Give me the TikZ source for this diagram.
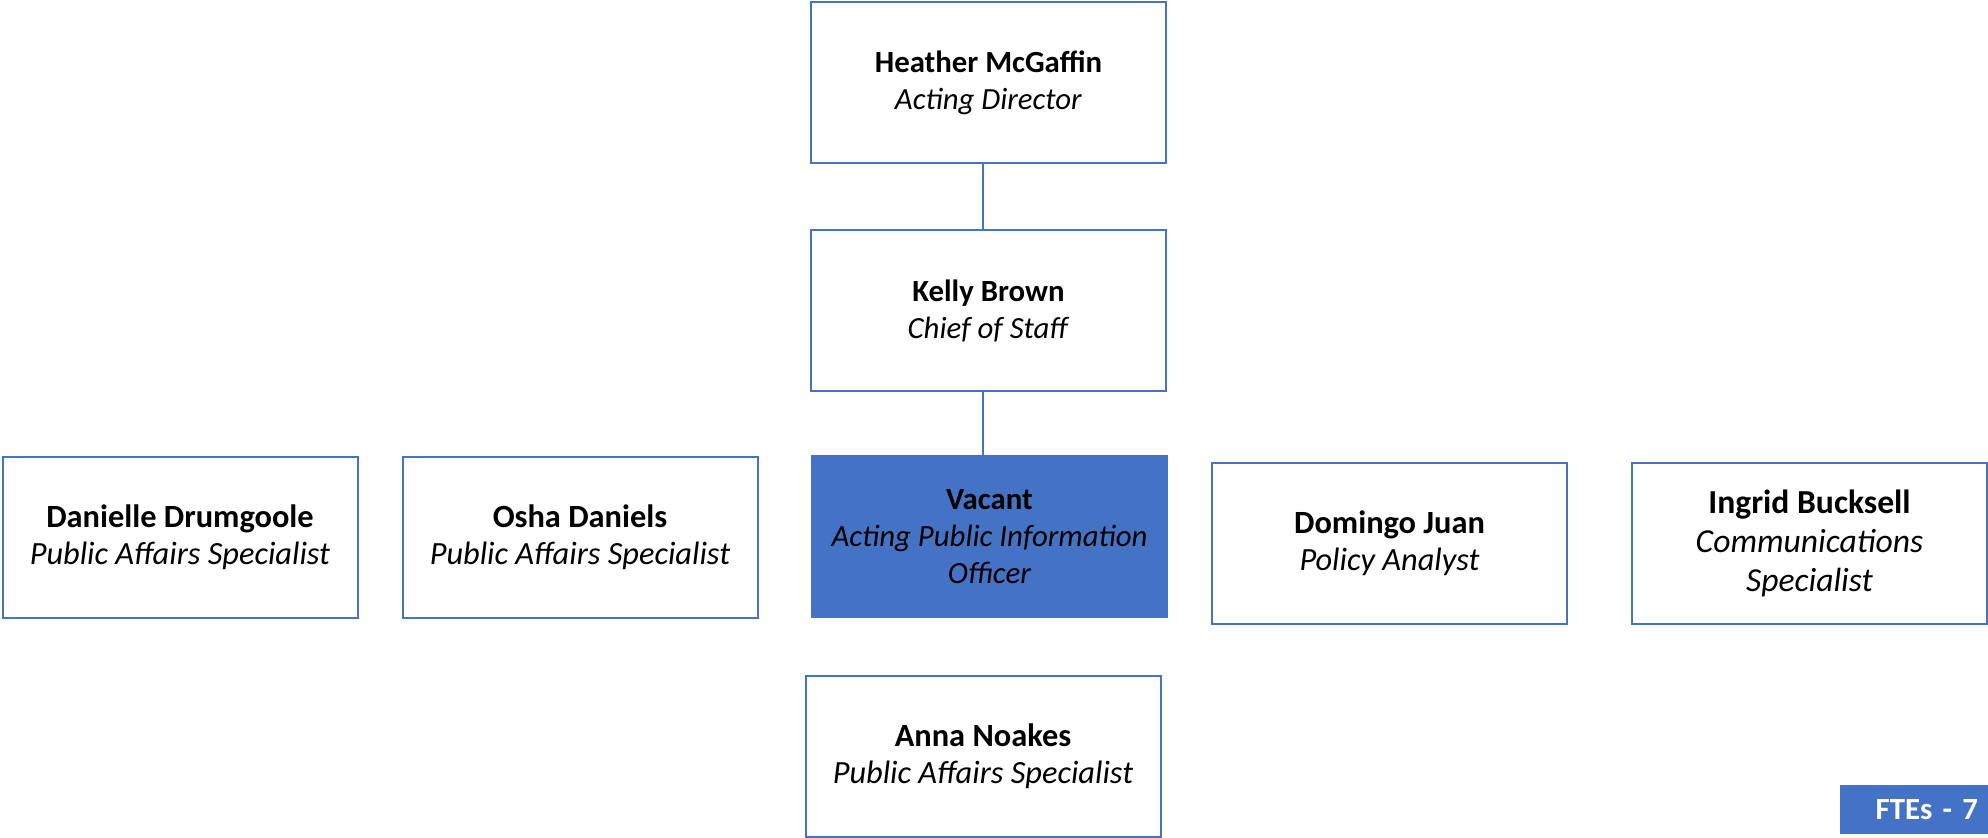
\documentclass[tikz,border=0pt]{standalone}
\usepackage{fontspec}
\setmainfont{Carlito}
\definecolor{orgblue}{HTML}{4472C4}
\begin{document}
\begin{tikzpicture}[x=0.5pt,y=-0.5pt,
	person/.style={draw=orgblue, line width=1pt, rectangle, inner sep=0pt, outer sep=0pt,
		minimum width=177.5pt, minimum height=80.5pt, align=center,
		font=\fontsize{16.2}{18.5}\selectfont},
	upper/.style={person, font=\fontsize{15.4}{18.5}\selectfont},
	vacant/.style={upper, fill=orgblue},
	ftebox/.style={fill=orgblue, text=white, inner xsep=5pt, inner ysep=0pt, outer sep=0pt,
		minimum height=24.5pt, text width=64pt, align=right,
		font=\fontsize{15.4}{18}\selectfont\bfseries},
	link/.style={draw=orgblue, line width=1pt}]
	\useasboundingbox (0,0) rectangle (1988,838);
	% top of the chart
	\node [upper] (heather) at (988.5,82.5) {\textbf{Heather McGaffin}\\\textit{Acting Director}};
	\node [upper] (kelly)   at (988.5,311)  {\textbf{Kelly Brown}\\\textit{Chief of Staff}};
	\node [vacant] (pio)    at (989.5,537)  {\textbf{Vacant}\\\textit{Acting Public Information}\\\textit{Officer}};
	% staff row
	\node [person] (danielle) at (180,537.5)    {\textbf{Danielle Drumgoole}\\\textit{Public Affairs Specialist}};
	\node [person] (osha)     at (580,537.5)    {\textbf{Osha Daniels}\\\textit{Public Affairs Specialist}};
	\node [person] (domingo)  at (1389.5,543.5) {\textbf{Domingo Juan}\\\textit{Policy Analyst}};
	\node [person, font=\fontsize{16.8}{19.3}\selectfont] (ingrid) at (1809.5,543.5)
		{\textbf{Ingrid Bucksell}\\\textit{Communications}\\\textit{Specialist}};
	\node [person] (anna)     at (983,756.5)    {\textbf{Anna Noakes}\\\textit{Public Affairs Specialist}};
	\node [ftebox] (fte)      at (1914,809.5)   {FTEs - 7};
	% reporting lines
	\draw [link] ([xshift=-2.75pt]heather.south) -- ([xshift=-2.75pt]kelly.north);
	\draw [link] ([xshift=-2.75pt]kelly.south) -- ([xshift=-3.25pt]pio.north);
\end{tikzpicture}
\end{document}
